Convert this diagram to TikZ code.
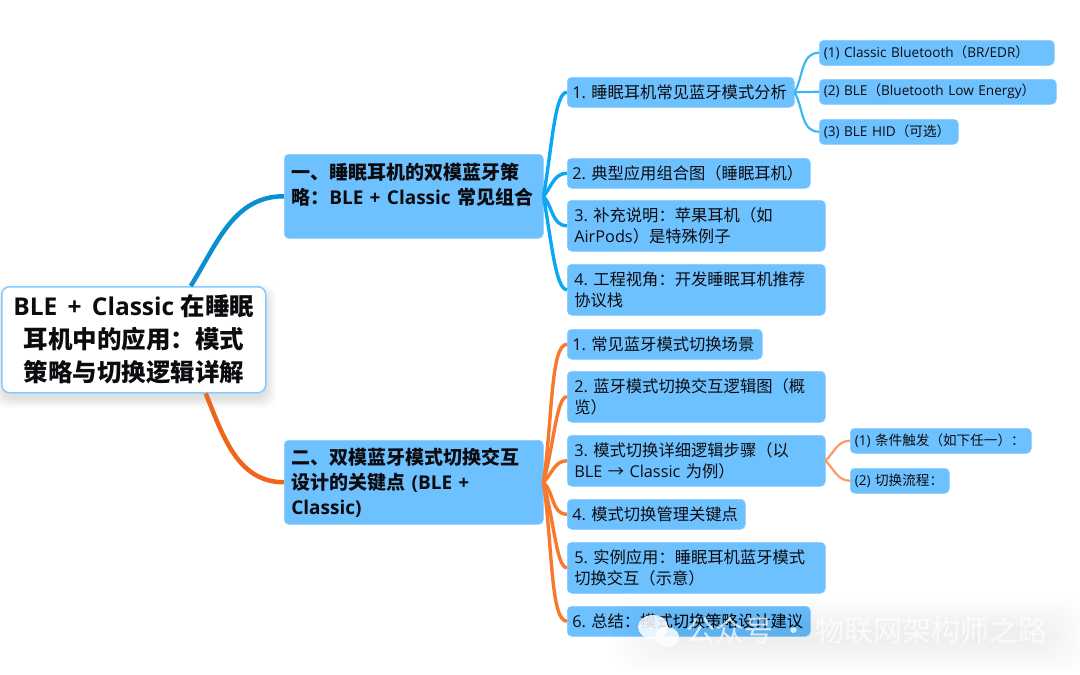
\documentclass[tikz,border=0pt]{standalone}
\usepackage{fontspec}
\setmainfont{Open Sans}
\newfontfamily\cjk{Noto Sans CJK SC}
\newcommand{\zh}[1]{{\cjk #1}}
\definecolor{boxblue}{HTML}{6EC1FF}
\definecolor{boxedge}{HTML}{84CBFF}
\definecolor{inkblack}{HTML}{0C0C10}
\definecolor{trunkblue}{HTML}{0A8FD2}
\definecolor{linkblue}{HTML}{0AA8F2}
\definecolor{thinblue}{HTML}{3DB8F5}
\definecolor{trunkorange}{HTML}{F0641C}
\definecolor{linkorange}{HTML}{F8782C}
\definecolor{thinorange}{HTML}{FB9A62}
\tikzset{
	boxsize/.style 2 args={text width=#1-1pt-2*\pgfkeysvalueof{/pgf/inner xsep}, minimum height=#2},
	topic/.style={anchor=north west, fill=boxblue, draw=boxedge, line width=.5pt, rounded corners=4.5pt, text=inkblack, align=left, inner ysep=0pt, inner xsep=5pt},
	mainbox/.style={topic, font=\frenchspacing\fontsize{19}{25}\selectfont\bfseries, inner xsep=7pt},
	subbox/.style={topic, font=\frenchspacing\fontsize{16.3}{21}\selectfont},
	twoline/.style={inner xsep=7pt},
	smallbox/.style={topic, font=\frenchspacing\fontsize{13.6}{18}\selectfont, inner xsep=4.5pt},
	rootbox/.style={anchor=north west, fill=white, draw=boxedge, line width=1.5pt, rounded corners=8pt, text=inkblack, align=center, inner sep=0pt, font=\fontsize{24.5}{33}\selectfont\bfseries},
	bigline/.style={line width=4.5pt},
	midline/.style={line width=3.4pt},
	thinline/.style={line width=2.2pt},
	longlink/.style={out looseness=1.2, in looseness=.3},
}
\begin{document}
\begin{tikzpicture}[x=1pt,y=-1pt]
	\useasboundingbox (0,0) rectangle (1080,675);
	
	% soft shadow of the root
	\foreach \X in {0,...,9}{
		\fill[black, opacity=.012, rounded corners=12pt] (-6+\X,284+\X) rectangle (276-\X,408-\X);
	}
	\node[rootbox, minimum width=264pt, minimum height=106pt] (root) at (1,286) {BLE\hspace{.42em}+\hspace{.42em}Classic \zh{在睡眠}\\\zh{耳机中的应用：模式}\\\zh{策略与切换逻辑详解}};
	
	\node[mainbox, boxsize={260pt}{84pt}] (modes) at (284,154) {\zh{一、睡眠耳机的双模蓝牙策}\\\zh{略：}BLE + Classic \zh{常见组合}\\ \ };
	\node[mainbox, boxsize={260pt}{84pt}] (switch) at (284,440) {\zh{二、双模蓝牙模式切换交互}\\\zh{设计的关键点} (BLE +\\Classic)};
	
	\node[subbox, boxsize={228pt}{30pt}] (m1) at (567,77) {1. \zh{睡眠耳机常见蓝牙模式分析}};
	\node[subbox, boxsize={244pt}{30pt}] (m2) at (567,158) {2. \zh{典型应用组合图（睡眠耳机）}};
	\node[subbox, twoline, boxsize={259pt}{51pt}] (m3) at (567,200) {3. \zh{补充说明：苹果耳机（如}\\AirPods\zh{）是特殊例子}};
	\node[subbox, twoline, boxsize={259pt}{51pt}] (m4) at (567,264) {4. \zh{工程视角：开发睡眠耳机推荐}\\\zh{协议栈}};
	
	\node[smallbox, boxsize={236pt}{25pt}] (p1) at (819,40) {(1)~Classic~Bluetooth\zh{（}BR/EDR\zh{）}};
	\node[smallbox, boxsize={238pt}{25pt}] (p2) at (819,79) {(2)~BLE\zh{（}Bluetooth~Low~Energy\zh{）}};
	\node[smallbox, boxsize={140pt}{25pt}] (p3) at (819,119) {(3)~BLE~HID\zh{（可选）}};
	
	\node[subbox, boxsize={196pt}{30pt}] (s1) at (567,329) {1. \zh{常见蓝牙模式切换场景}};
	\node[subbox, twoline, boxsize={259pt}{51pt}] (s2) at (567,371) {2. \zh{蓝牙模式切换交互逻辑图（概}\\\zh{览）}};
	\node[subbox, twoline, boxsize={259pt}{51pt}] (s3) at (567,435) {3. \zh{模式切换详细逻辑步骤（以}\\BLE \zh{→} Classic \zh{为例）}};
	\node[subbox, boxsize={179pt}{30pt}] (s4) at (567,499) {4. \zh{模式切换管理关键点}};
	\node[subbox, twoline, boxsize={259pt}{51pt}] (s5) at (567,542) {5. \zh{实例应用：睡眠耳机蓝牙模式}\\\zh{切换交互（示意）}};
	\node[subbox, boxsize={244pt}{30pt}] (s6) at (567,606) {6. \zh{总结：模式切换策略设计建议}};
	
	\node[smallbox, boxsize={182pt}{25pt}] (t1) at (850,428) {(1)~\zh{条件触发（如下任一）：}};
	\node[smallbox, boxsize={100pt}{25pt}] (t2) at (850,468) {(2)~\zh{切换流程：}};
	
	\draw[bigline, trunkblue] ([xshift=57pt]root.north) to[out=58,in=180] (modes.west);
	\draw[bigline, trunkorange] ([xshift=72pt]root.south) to[out=-68,in=180] (switch.west);
	
	\draw[midline, linkblue] (modes.east) to[out=80,in=180,longlink] (m1.west);
	\draw[midline, linkblue] (modes.east) to[out=50,in=180] (m2.west);
	\draw[midline, linkblue] (modes.east) to[out=-50,in=180] (m3.west);
	\draw[midline, linkblue] (modes.east) to[out=-80,in=180,longlink] (m4.west);
	
	\draw[thinline, thinblue] (m1.east) to[out=60,in=180] (p1.west);
	\draw[thinline, thinblue] (m1.east) -- (p2.west);
	\draw[thinline, thinblue] (m1.east) to[out=-60,in=180] (p3.west);
	
	\draw[midline, linkorange] (switch.east) to[out=82,in=180,longlink] (s1.west);
	\draw[midline, linkorange] (switch.east) to[out=75,in=180,longlink] (s2.west);
	\draw[midline, linkorange] (switch.east) to[out=45,in=180] (s3.west);
	\draw[midline, linkorange] (switch.east) to[out=-45,in=180] (s4.west);
	\draw[midline, linkorange] (switch.east) to[out=-75,in=180,longlink] (s5.west);
	\draw[midline, linkorange] (switch.east) to[out=-82,in=180,longlink] (s6.west);
	
	\draw[thinline, thinorange] (s3.east) to[out=45,in=180] (t1.west);
	\draw[thinline, thinorange] (s3.east) to[out=-45,in=180] (t2.west);
	
	% soft patch under the mark
	\foreach \X in {0,...,15}{
		\fill[black, opacity=.005, rounded corners=22pt] (610+\X*4,597+\X*2) rectangle (1090-\X*3,672-\X*2);
	}
	\fill[white, opacity=.85] (653,627) ellipse (15pt and 12pt);
	\fill[white, opacity=.85] (667,637) ellipse (12pt and 10pt);
	\node[white, opacity=.75, anchor=west, inner sep=0pt, font=\fontsize{29}{30}\selectfont] (mark) at (686,631) {\zh{公众号 · 物联网架构师之路}};
\end{tikzpicture}
\end{document}
